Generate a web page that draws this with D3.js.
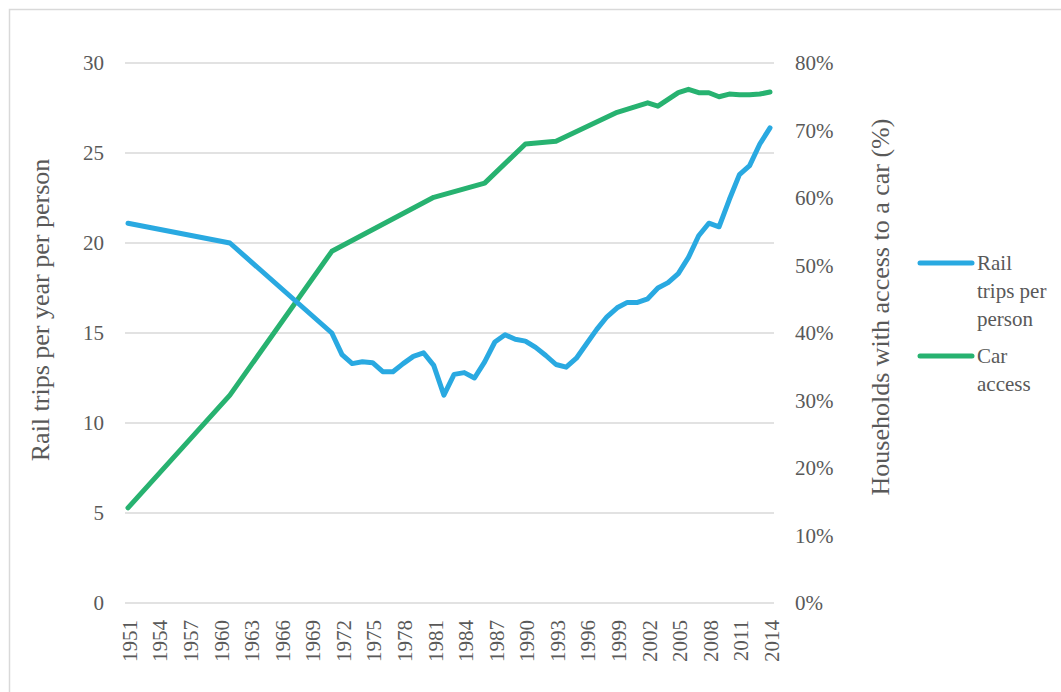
<!DOCTYPE html>
<html>
<head>
<meta charset="utf-8">
<script src="https://cdn.jsdelivr.net/npm/d3@7"></script>
<style>
  body { margin: 0; background: #fff; }
</style>
</head>
<body>
<script>
// Rail trips per person (left axis)
const railYears = [1951, 1961, 1971, 1972, 1973, 1974, 1975, 1976, 1977, 1978, 1979, 1980,
    1981, 1982, 1983, 1984, 1985, 1986, 1987, 1988, 1989, 1990, 1991, 1992, 1993, 1994,
    1995, 1996, 1997, 1998, 1999, 2000, 2001, 2002, 2003, 2004, 2005, 2006, 2007, 2008,
    2009, 2010, 2011, 2012, 2013, 2014];
const railValues = [21.1, 20.0, 15.0, 13.8, 13.3, 13.4, 13.35, 12.85, 12.85, 13.3, 13.7, 13.9,
    13.2, 11.55, 12.7, 12.8, 12.5, 13.4, 14.5, 14.9, 14.65, 14.55, 14.2, 13.75, 13.25, 13.1,
    13.6, 14.4, 15.2, 15.9, 16.4, 16.7, 16.7, 16.9, 17.5, 17.8, 18.3, 19.2, 20.4, 21.1,
    20.9, 22.4, 23.8, 24.3, 25.5, 26.4];

// Households with car access, % (right axis)
const carYears = [1951, 1961, 1971, 1981, 1986, 1990, 1993, 1999, 2002, 2003, 2005, 2006,
    2007, 2008, 2009, 2010, 2011, 2012, 2013, 2014];
const carValues = [14.1, 30.8, 52.1, 60.1, 62.2, 68.0, 68.4, 72.7, 74.1, 73.6, 75.6, 76.1,
    75.6, 75.6, 75.0, 75.4, 75.3, 75.3, 75.4, 75.7];

const leftTicks = [0, 5, 10, 15, 20, 25, 30];
const rightTicks = [0, 10, 20, 30, 40, 50, 60, 70, 80];
const xTicks = d3.range(1951, 2015, 3);

const legendItems = [
    { lines: ['Rail', 'trips per', 'person'], color: '#29a9e1' },
    { lines: ['Car', 'access'], color: '#27b270' }
];

const width = 1061;
const height = 692;
const fontFamily = 'Liberation Serif, DejaVu Serif, serif';
const textColor = '#595959';

const svg = d3.select('body').append('svg')
    .attr('width', width)
    .attr('height', height);

// outer border
svg.append('rect')
    .attr('x', 9.5).attr('y', 9.5)
    .attr('width', 1200).attr('height', 900)
    .attr('fill', 'none')
    .attr('stroke', '#d9d9d9')
    .attr('stroke-width', 1.5);

const x = d3.scaleLinear().domain([1951, 2014]).range([128, 770]);
const yLeft = d3.scaleLinear().domain([0, 30]).range([603, 63]);
const yRight = d3.scaleLinear().domain([0, 80]).range([603, 63]);

// gridlines
svg.append('g')
    .selectAll('line')
    .data(leftTicks)
    .enter().append('line')
    .attr('x1', 125).attr('x2', 774)
    .attr('y1', d => yLeft(d)).attr('y2', d => yLeft(d))
    .attr('stroke', '#d9d9d9')
    .attr('stroke-width', 1.5);

// left axis
const leftAxis = svg.append('g')
    .attr('transform', 'translate(104,0)')
    .call(d3.axisLeft(yLeft).tickValues(leftTicks).tickSize(0).tickPadding(0));
leftAxis.select('.domain').remove();

// right axis
const rightAxis = svg.append('g')
    .attr('transform', 'translate(795,0)')
    .call(d3.axisRight(yRight).tickValues(rightTicks).tickSize(0).tickPadding(0)
        .tickFormat(d => d + '%'));
rightAxis.select('.domain').remove();

// bottom axis, rotated labels
const bottomAxis = svg.append('g')
    .attr('transform', 'translate(0,603)')
    .call(d3.axisBottom(x).tickValues(xTicks).tickSize(0).tickFormat(d3.format('d')));
bottomAxis.select('.domain').remove();
bottomAxis.selectAll('text')
    .attr('transform', 'rotate(-90)')
    .attr('text-anchor', 'end')
    .attr('x', -17)
    .attr('y', 1)
    .attr('dy', '0.35em');

[leftAxis, rightAxis, bottomAxis].forEach(a => {
    a.attr('font-size', 21);
});

// axis titles
svg.append('text')
    .attr('transform', 'translate(49,310) rotate(-90)')
    .attr('text-anchor', 'middle')
    .attr('font-size', 26)
    .text('Rail trips per year per person');

svg.append('text')
    .attr('transform', 'translate(889,307) rotate(-90)')
    .attr('text-anchor', 'middle')
    .attr('font-size', 26)
    .text('Households with access to a car (%)');

// lines
const railLine = d3.line()
    .x(d => x(d[0]))
    .y(d => yLeft(d[1]));
const carLine = d3.line()
    .x(d => x(d[0]))
    .y(d => yRight(d[1]));

svg.append('path')
    .datum(carYears.map((yr, i) => [yr, carValues[i]]))
    .attr('d', carLine)
    .attr('fill', 'none')
    .attr('stroke', legendItems[1].color)
    .attr('stroke-width', 5)
    .attr('stroke-linejoin', 'round')
    .attr('stroke-linecap', 'round');

svg.append('path')
    .datum(railYears.map((yr, i) => [yr, railValues[i]]))
    .attr('d', railLine)
    .attr('fill', 'none')
    .attr('stroke', legendItems[0].color)
    .attr('stroke-width', 5)
    .attr('stroke-linejoin', 'round')
    .attr('stroke-linecap', 'round');

// legend
const legendY = [263, 356];
legendItems.forEach((item, i) => {
    const g = svg.append('g').attr('transform', `translate(0,${legendY[i]})`);
    g.append('line')
        .attr('x1', 920).attr('x2', 972)
        .attr('y1', 0).attr('y2', 0)
        .attr('stroke', item.color)
        .attr('stroke-width', 5)
        .attr('stroke-linecap', 'round');
    item.lines.forEach((t, j) => {
        g.append('text')
            .attr('x', 977)
            .attr('y', j * 28)
            .attr('dy', '0.35em')
            .attr('font-size', 21)
            .text(t);
    });
});

// common text styling
svg.selectAll('text')
    .attr('font-family', fontFamily)
    .style('fill', textColor);
</script>
</body>
</html>
